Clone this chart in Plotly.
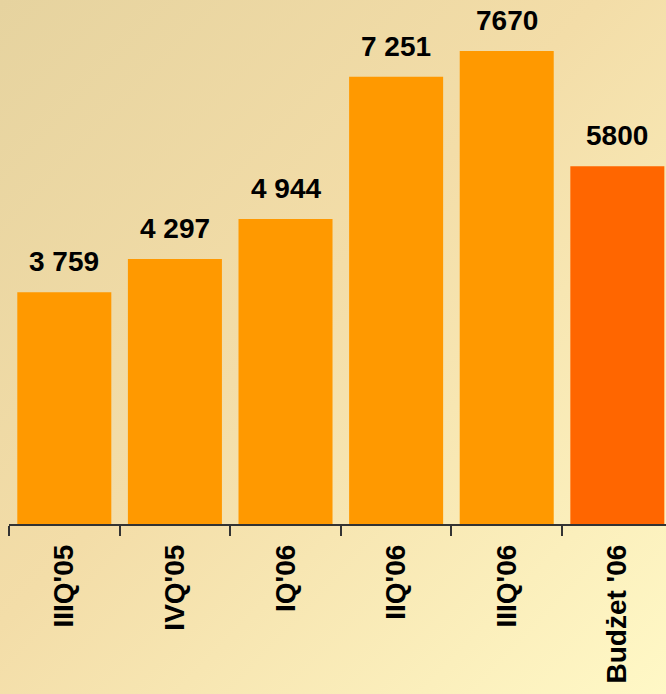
import plotly.graph_objects as go

categories = ["IIIQ'05", "IVQ'05", "IQ'06", "IIQ'06", "IIIQ'06", "Budżet '06"]
values = [3759, 4297, 4944, 7251, 7670, 5800]
labels = ["3 759", "4 297", "4 944", "7 251", "7670", "5800"]
bar_colors = ["#FF9900", "#FF9900", "#FF9900", "#FF9900", "#FF9900", "#FF6600"]

bg_svg = (
    "data:image/svg+xml;utf8,"
    "<svg xmlns='http://www.w3.org/2000/svg' width='666' height='694'>"
    "<defs><linearGradient id='g' x1='0' y1='0' x2='1' y2='1'>"
    "<stop offset='0' stop-color='%23E6D39F'/>"
    "<stop offset='0.45' stop-color='%23F3DDA8'/>"
    "<stop offset='1' stop-color='%23FFF8C6'/>"
    "</linearGradient></defs>"
    "<rect width='666' height='694' fill='url(%23g)'/></svg>"
)

FONT = "Liberation Sans, Arial"
XRANGE = [-0.5, 5.44]

fig = go.Figure(
    go.Bar(
        x=list(range(len(categories))),
        y=values,
        marker=dict(color=bar_colors, line=dict(width=0)),
        width=0.85,
        hoverinfo="skip",
    )
)

for i, (v, t) in enumerate(zip(values, labels)):
    fig.add_annotation(
        x=i, y=v, text=f"<b>{t}</b>", showarrow=False,
        yanchor="bottom", yshift=13,
        font=dict(family=FONT, size=28, color="black"),
    )

fig.update_layout(
    width=666, height=694,
    margin=dict(l=9, r=0, t=0, b=170),
    paper_bgcolor="#F0DCA8",
    plot_bgcolor="rgba(0,0,0,0)",
    showlegend=False,
    images=[dict(source=bg_svg, xref="paper", yref="paper", x=-9/657, y=1,
                 sizex=666/657, sizey=694/524, xanchor="left", yanchor="top",
                 sizing="stretch", layer="below")],
    xaxis=dict(
        range=XRANGE,
        showline=True, linecolor="#333333", linewidth=2,
        ticks="outside", ticklen=10, tickcolor="#333333", tickwidth=2,
        tickmode="array", tickvals=[-0.5, 0.5, 1.5, 2.5, 3.5, 4.5],
        ticktext=["", "", "", "", "", ""],
        showgrid=False, zeroline=False,
    ),
    xaxis2=dict(
        overlaying="x", anchor="y", side="bottom", range=XRANGE,
        tickmode="array", tickvals=list(range(6)),
        ticktext=[f"<b>{c}</b>" for c in categories],
        tickangle=-90, ticks="", showline=False, showgrid=False, zeroline=False,
        ticklabelstandoff=14,
        tickfont=dict(family=FONT, size=28, color="black"),
    ),
    yaxis=dict(range=[0, 8497], visible=False, showgrid=False, zeroline=False),
)
fig.add_trace(go.Scatter(x=[0], y=[0], xaxis="x2", mode="markers",
                         marker=dict(opacity=0), hoverinfo="skip"))

fig.write_html(
    "out.html",
    config={"displayModeBar": False},
    post_script="document.body.style.margin='0';document.body.style.padding='0';document.body.style.overflow='hidden';",
)
